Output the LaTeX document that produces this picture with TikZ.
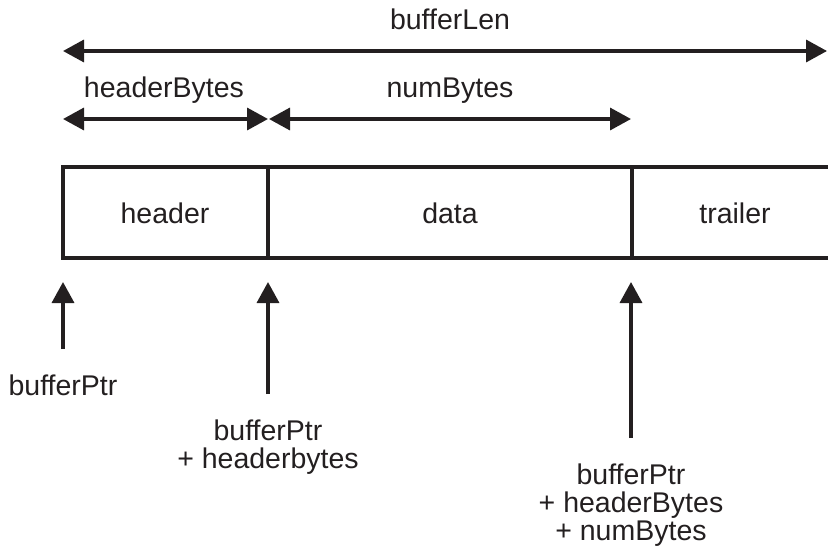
\documentclass[tikz,border=0pt]{standalone}
\usepackage{fontspec}
\setmainfont{Liberation Sans}
\usetikzlibrary{arrows.meta}
\definecolor{ink}{HTML}{231F20}
\begin{document}
\begin{tikzpicture}[x=1pt,y=-1pt,
  lbl/.style={inner sep=0pt,anchor=base,text=ink,font=\fontsize{28.5}{27.7}\selectfont},
  ml/.style={lbl,align=center},
  edge/.style={line width=3.5pt,draw=ink},
  tip/.tip={Triangle[length=21pt,width=22pt]},
  dim/.style={edge,tip-tip},
  ptr/.style={edge,-tip}]
\useasboundingbox (0,0) rectangle (828,546);

% dimension arrows
\coordinate (lenL) at (63,51);
\coordinate (lenR) at (827,51);
\coordinate (hbL) at (63,119);
\coordinate (hbR) at (268,119);
\coordinate (nbL) at (269,119);
\coordinate (nbR) at (631,119);
\draw[dim] (lenL) -- (lenR);
\draw[dim] (hbL) -- (hbR);
\draw[dim] (nbL) -- (nbR);
\node[lbl] (lenLbl) at (450,30) {bufferLen};
\node[lbl] (hbLbl) at (164,97) {headerBytes};
\node[lbl] (nbLbl) at (450,97) {numBytes};

% buffer layout (open on the right)
\coordinate (bTL) at (63,167);
\coordinate (bBL) at (63,258);
\draw[edge] (829,167) -- (bTL) -- (bBL) -- (829,258);
\coordinate (d1T) at (268,167);
\coordinate (d1B) at (268,258);
\coordinate (d2T) at (632,167);
\coordinate (d2B) at (632,258);
\draw[edge] (d1T) -- (d1B);
\draw[edge] (d2T) -- (d2B);
\node[lbl] (hdr) at (165,223) {header};
\node[lbl] (dat) at (450,223) {data};
\node[lbl] (trl) at (735,223) {trailer};

% pointer arrows
\coordinate (p1tip) at (63,282);
\coordinate (p1tail) at (63,349);
\coordinate (p2tip) at (268,282);
\coordinate (p2tail) at (268,394);
\coordinate (p3tip) at (631,282);
\coordinate (p3tail) at (631,438);
\draw[ptr] (p1tail) -- (p1tip);
\draw[ptr] (p2tail) -- (p2tip);
\draw[ptr] (p3tail) -- (p3tip);
% multi-line labels sit on the baseline of their last line
\node[lbl] (p1Lbl) at (63,395) {bufferPtr};
\node[ml] (p2Lbl) at (268,468) {bufferPtr\\+ headerbytes};
\node[ml] (p3Lbl) at (631,540) {bufferPtr\\+ headerBytes\\+ numBytes};
\end{tikzpicture}
\end{document}
